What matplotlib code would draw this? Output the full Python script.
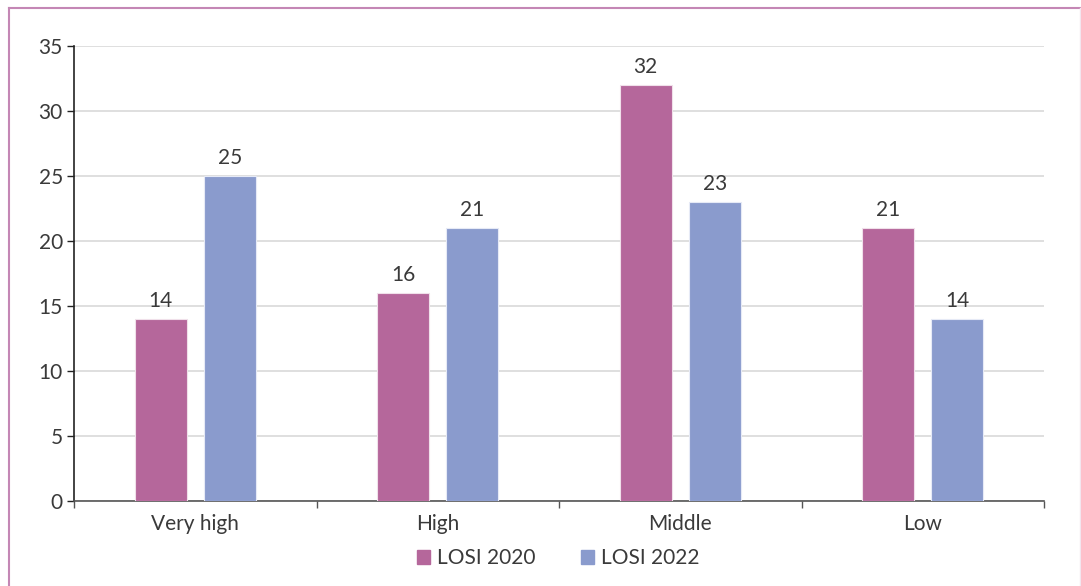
import matplotlib
matplotlib.use("Agg")
import matplotlib.pyplot as plt
from matplotlib.lines import Line2D
from matplotlib.patches import Patch
import numpy as np

categories = ["Very high", "High", "Middle", "Low"]
losi_2020 = [14, 16, 32, 21]
losi_2022 = [25, 21, 23, 14]
series_names = ["LOSI 2020", "LOSI 2022"]
yticks = [0, 5, 10, 15, 20, 25, 30, 35]

PINK = "#b5679b"
BLUE = "#8a9bcd"
TEXT = "#3a3a3a"
FRAME = "#c487b5"
FS = 15

plt.rcParams["font.family"] = ["Lato", "DejaVu Sans"]

fig = plt.figure(figsize=(10.81, 5.86), dpi=100)
ax = fig.add_axes([74 / 1081, 1 - 501 / 586, (1044 - 74) / 1081, (501 - 46) / 586])

x = np.arange(len(categories))
width = 0.215
offset = 0.143
bars1 = ax.bar(x - offset, losi_2020, width, color=PINK, edgecolor="#f0e0ea", linewidth=0.8, zorder=3)
bars2 = ax.bar(x + offset, losi_2022, width, color=BLUE, edgecolor="#e6eaf6", linewidth=0.8, zorder=3)

for bars, vals in ((bars1, losi_2020), (bars2, losi_2022)):
    for bar, val in zip(bars, vals):
        ax.annotate(str(val), xy=(bar.get_x() + bar.get_width() / 2, val),
                    xytext=(0, 6), textcoords="offset points",
                    ha="center", va="bottom", fontsize=FS, color=TEXT)

ax.set_xlim(-0.5, len(categories) - 0.5)
ax.set_ylim(0, 35)
ax.set_yticks(yticks)
ax.tick_params(axis="y", labelsize=FS, labelcolor=TEXT, length=5, width=1, color="#222222", pad=3)
ax.yaxis.grid(True, color="#d9d9d9", linewidth=1.2, zorder=0)
ax.set_axisbelow(True)

# category labels centred, tick marks on the group boundaries
ax.set_xticks(x)
ax.set_xticklabels(categories, fontsize=FS, color=TEXT)
ax.tick_params(axis="x", length=0, pad=9)
ax.set_xticks(np.arange(-0.5, len(categories)), minor=True)
ax.tick_params(axis="x", which="minor", length=5, width=1, color="#555555", direction="out")

for s in ("top", "right"):
    ax.spines[s].set_visible(False)
ax.spines["left"].set_color("#222222")
ax.spines["left"].set_linewidth(1.2)
ax.spines["bottom"].set_color("#555555")
ax.spines["bottom"].set_linewidth(1.2)

handles = [Patch(color=PINK), Patch(color=BLUE)]
fig.legend(handles, series_names, loc="center", bbox_to_anchor=(558 / 1081, 1 - 558 / 586),
           ncol=2, frameon=False, fontsize=FS, handlelength=0.65, handleheight=0.65,
           handletextpad=0.3, columnspacing=2.2, labelcolor=TEXT)

# outer frame
fig.add_artist(Line2D([8.5 / 1081, 8.5 / 1081], [0, 1 - 8 / 586], color=FRAME, linewidth=1.5,
                      transform=fig.transFigure))
fig.add_artist(Line2D([8.5 / 1081, 1], [1 - 8 / 586, 1 - 8 / 586], color=FRAME, linewidth=1.5,
                      transform=fig.transFigure))
fig.add_artist(Line2D([1079.5 / 1081, 1079.5 / 1081], [0, 1 - 8 / 586], color="#f3e6ef", linewidth=1,
                      transform=fig.transFigure))

fig.savefig("out.png", dpi=100, facecolor="white")
